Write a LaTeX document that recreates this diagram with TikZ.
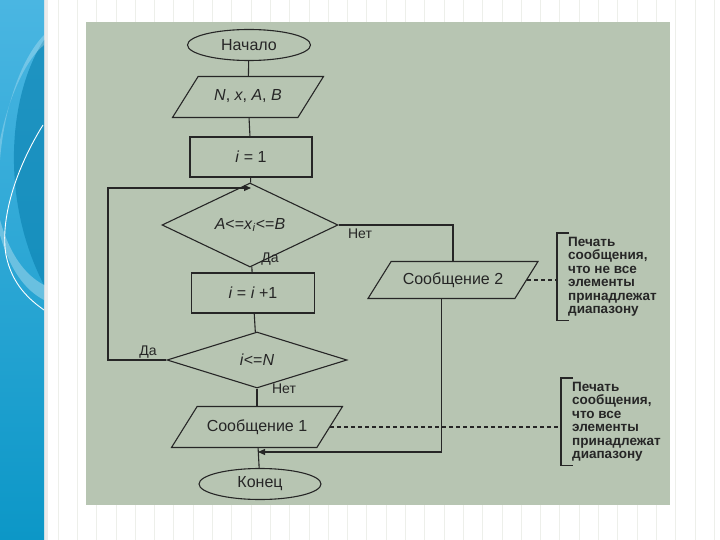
\documentclass[tikz,border=0pt]{standalone}
\usepackage{fontspec}
\setmainfont{Liberation Sans}
\usepackage{tikz}
\usetikzlibrary{arrows.meta,positioning,shapes.geometric}
\definecolor{photofill}{HTML}{B7C5B2}
\definecolor{inkline}{HTML}{262626}
\definecolor{bandtop}{HTML}{4AB6E2}
\definecolor{bandbot}{HTML}{0C97C7}
\definecolor{banddark}{HTML}{0F86B5}
\definecolor{gridline}{HTML}{EDEFEA}

\begin{document}
\begin{tikzpicture}[x=1pt, y=-1pt,
  block/.style={draw=inkline, line width=1.1pt, minimum width=123pt, minimum height=40pt, inner sep=2pt, font=\fontsize{16}{18}\selectfont, text=inkline},
  term/.style={block, ellipse, minimum height=31pt},
  io/.style={block, trapezium, trapezium left angle=58, trapezium right angle=122, trapezium stretches body, minimum height=0pt, text height=11pt, text depth=3pt, inner ysep=13.5pt},
  cond/.style={block, diamond, minimum height=56pt, inner sep=0pt},
  lbl/.style={font=\fontsize{14}{16}\selectfont, text=inkline, inner sep=1pt},
  note/.style={align=left, font=\fontsize{13.5}{13.4}\selectfont\bfseries, text=inkline, inner xsep=11pt, inner ysep=4pt},
  line/.style={draw=inkline, line width=1.1pt},
  arr/.style={line, -{Triangle[length=7pt, width=6pt]}},
  dashln/.style={line, dash pattern=on 4pt off 3pt}
]
  \useasboundingbox (0,0) rectangle (720,540);
  % slide
  \fill[white] (0,0) rectangle (720,540);
  \draw[gridline, line width=0.6pt] (44,0) grid[step=19.3] (720,540);
  \shade[top color=bandtop, bottom color=bandbot] (0,0) rectangle (44,540);
  \fill[banddark, opacity=0.7] (44,40) .. controls (8,95) and (0,200) .. (44,285) -- cycle;
  \fill[white, opacity=0.25] (44,35) .. controls (20,60) and (4,110) .. (0,160) -- (0,140) .. controls (8,100) and (25,60) .. (44,45) -- cycle;
  \draw[white, line width=0.9pt] (43,125) .. controls (15,170) and (0,220) .. (6,255) .. controls (12,285) and (30,300) .. (44,310);
  \fill[white, opacity=0.3] (0,235) .. controls (10,270) and (25,290) .. (44,300) -- (44,285) .. controls (25,275) and (10,255) .. (0,220) -- cycle;
  \fill[black, opacity=0.08] (44,0) rectangle (48,540);
  % photo
  \fill[photofill] (86,22) rectangle (670,505);

  % main flow
  \node[term] (start) at (249,45) {Начало};
  \node[io, minimum width=151pt] (input) at (248,97) {\textit{N}, \textit{x}, \textit{A}, \textit{B}};
  \node[block, minimum width=122pt] (init) at (251,157) {\textit{i} = 1};
  \node[cond, minimum width=176pt] (check) at (250,225) {\textit{A}<=\textit{x}\textsubscript{\textit{i}}<=\textit{B}};
  \node[block] (incr) at (253,293) {\textit{i} = \textit{i} +1};
  \node[cond, minimum width=180pt] (loop) at (257,360) {\textit{i}<=\textit{N}};
  \node[io, minimum width=171pt] (msgone) at (257,427) {Сообщение 1};
  \node[term, minimum width=122pt] (stop) at (260,484) {Конец};
  \node[io, minimum width=170pt, inner ysep=11.5pt] (msgtwo) at (453,280) {Сообщение 2};

  \coordinate (backin) at (251,188);
  \coordinate (loopturn) at (108,188);
  \coordinate (msgin) at (258,452);

  \draw[line] (start) -- (input);
  \draw[line] (input) -- (init);
  \draw[line] (init) -- (check);
  \draw[line] (check) -- (incr);
  \draw[line] (incr) -- (loop);
  \draw[line] (loop) -- (msgone);
  \draw[line] (msgone) -- (stop);
  \draw[arr] (loop.west) -| (loopturn) -- (backin);
  \draw[line] (check.east) -| (msgtwo.north);
  \draw[arr] (msgtwo.bottom side) |- (msgin);

  \node[lbl] (nolbl1) at (360,234) {Нет};
  \node[lbl] (yeslbl1) at (270,259) {Да};
  \node[lbl] (yeslbl2) at (148,352) {Да};
  \node[lbl] (nolbl2) at (284,389) {Нет};

  % notes
  \node[note, anchor=north west] (noteone) at (557,233) {Печать\\сообщения,\\что не все\\элементы\\принадлежат\\диапазону};
  \node[note, anchor=north west] (notetwo) at (561,378) {Печать\\сообщения,\\что все\\элементы\\принадлежат\\диапазону};
  \draw[line] ([xshift=12pt]noteone.north west) -- (noteone.north west) -- (noteone.south west) -- ([xshift=12pt]noteone.south west);
  \draw[line] ([xshift=12pt]notetwo.north west) -- (notetwo.north west) -- (notetwo.south west) -- ([xshift=12pt]notetwo.south west);
  \draw[dashln] (msgtwo.east) -- (msgtwo.east -| noteone.west);
  \draw[dashln] (msgone.east) -- (msgone.east -| notetwo.west);
\end{tikzpicture}
\end{document}
